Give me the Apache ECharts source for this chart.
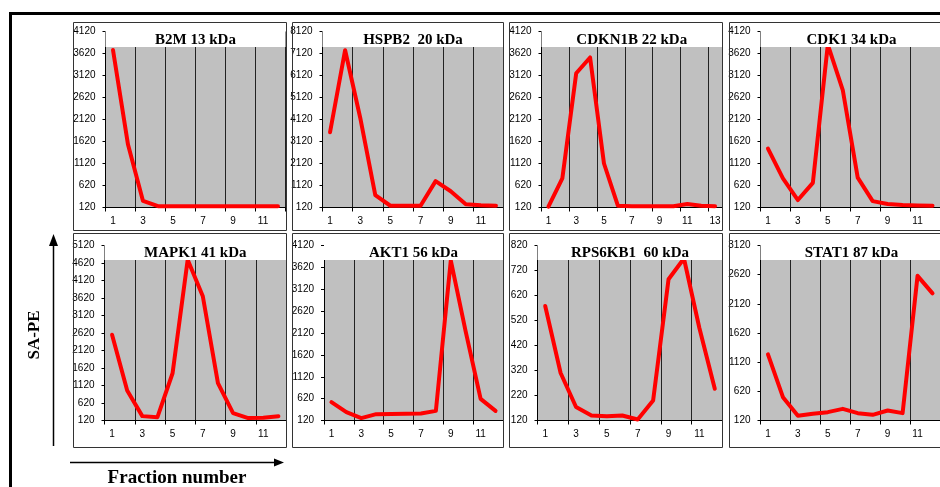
<!DOCTYPE html>
<html><head><meta charset="utf-8">
<script src="https://cdn.jsdelivr.net/npm/echarts@6/dist/echarts.min.js"></script>
<style>html,body{margin:0;padding:0;background:#fff}#c{width:940px;height:487px}</style>
</head><body><div id="c"></div>
<script>
// ---------- data ----------
const fractions12 = ['1','2','3','4','5','6','7','8','9','10','11','12'];
const fractions13 = ['1','2','3','4','5','6','7','8','9','10','11','12','13'];
const panelTitles = ['B2M 13 kDa','HSPB2  20 kDa','CDKN1B 22 kDa','CDK1 34 kDa','MAPK1 41 kDa','AKT1 56 kDa','RPS6KB1  60 kDa','STAT1 87 kDa'];
const b2m     = [3700, 1550, 270, 150, 150, 150, 150, 150, 150, 150, 150, 150];
const hspb2   = [3540, 7270, 4200, 680, 200, 200, 200, 1320, 860, 270, 220, 200];
const cdkn1b  = [140, 780, 3170, 3530, 1120, 160, 150, 150, 150, 150, 200, 160, 150];
const cdk1    = [1460, 780, 290, 680, 3820, 2790, 800, 265, 200, 175, 165, 160];
const mapk1   = [2570, 980, 245, 215, 1470, 4710, 3670, 1190, 330, 190, 200, 240];
const akt1    = [540, 310, 175, 265, 270, 272, 280, 340, 3780, 2150, 615, 340];
const rps6kb1 = [578, 310, 174, 140, 137, 140, 124, 200, 685, 768, 490, 247];
const stat1   = [1255, 520, 200, 235, 263, 320, 246, 217, 292, 246, 2600, 2300];
const axisMin   = [120, 120, 120, 120, 120, 120, 120, 120];
const axisMax   = [4120, 8120, 4120, 4120, 5120, 4120, 820, 3120];
const axisStep  = [500, 1000, 500, 500, 500, 500, 100, 500];
const yAxisTitle = 'SA-PE';
const xAxisTitle = 'Fraction number';

const seriesValues = [b2m, hspb2, cdkn1b, cdk1, mapk1, akt1, rps6kb1, stat1];
const seriesCats = [fractions12, fractions12, fractions13, fractions12, fractions12, fractions12, fractions12, fractions12];

// ---------- layout ----------
const plots = [
  {left:105.5, width:180,   top:31.5,  height:176},
  {left:322.5, width:181,   top:31.5,  height:176},
  {left:541.5, width:180.5, top:31.5,  height:176},
  {left:760.5, width:182,   top:31.5,  height:176},
  {left:104.5, width:181.5, top:245.5, height:175},
  {left:324,   width:179,   top:245.5, height:175},
  {left:537.5, width:185,   top:245.5, height:175},
  {left:760.5, width:182,   top:245.5, height:175}
];
const coverH = [14.5, 14.5, 14.5, 14.5, 13.5, 13.5, 13.5, 13.5];
const colX = [[73.5,286.5],[292.5,503.5],[509.5,722.5],[729.5,960]];
const rowY = [[22.5,230.5],[233.5,447.5]];

const SANS = "'Liberation Sans Narrow','Liberation Sans',Arial,sans-serif";
const SERIF = "'Liberation Serif','Times New Roman',serif";

const grid=[], xAxis=[], yAxis=[], series=[], title=[];
plots.forEach((p,i)=>{
  grid.push({left:p.left, top:p.top, width:p.width, height:p.height, show:true, backgroundColor:'#c0c0c0', borderWidth:0, containLabel:false});
  const n = seriesCats[i].length;
  xAxis.push({type:'category', gridIndex:i, data:seriesCats[i], boundaryGap:true,
    axisLine:{lineStyle:{color:'#000', width:1}},
    axisTick:{show:true, length:4, interval:(k)=>k%2===0, lineStyle:{color:'#000'}},
    axisLabel:{interval:1, margin:9, color:'#000', fontFamily:SANS, fontSize:10},
    splitLine:{show:true, interval:(k)=>k%2===0 && k>0 && k<n, lineStyle:{color:'#222', width:1}}
  });
  yAxis.push({type:'value', gridIndex:i, min:axisMin[i], max:axisMax[i], interval:axisStep[i],
    axisLine:{show:true, lineStyle:{color:'#000', width:1}},
    axisTick:{show:true, length:3, lineStyle:{color:'#000'}},
    axisLabel:{margin:10, color:'#000', fontFamily:SANS, fontSize:10, formatter:(v)=>String(v)},
    splitLine:{show:false}
  });
  series.push({type:'line', xAxisIndex:i, yAxisIndex:i, data:seriesValues[i], symbol:'none',
    lineStyle:{color:'#ff0000', width:4, cap:'round', join:'round'}, z:3, animation:false});
  title.push({text:'{t|'+panelTitles[i]+'}', left:p.left, top:p.top, padding:0, z:10,
    textStyle:{rich:{t:{width:p.width, height:coverH[i], lineHeight:coverH[i], align:'center',
      backgroundColor:'#fff', fontFamily:SERIF, fontWeight:'bold', fontSize:15, color:'#000', padding:[2,0,0,0]}}}});
});

const graphic = [];
colX.forEach(c=>rowY.forEach(r=>{
  graphic.push({type:'rect', z:20, shape:{x:c[0], y:r[0], width:c[1]-c[0], height:r[1]-r[0]},
    style:{fill:null, stroke:'#333', lineWidth:1}});
}));
graphic.push({type:'rect', z:20, shape:{x:10.5, y:13.5, width:1000, height:1000}, style:{fill:null, stroke:'#000', lineWidth:3}});
// vertical arrow
graphic.push({type:'line', z:20, shape:{x1:53.5, y1:446, x2:53.5, y2:244}, style:{stroke:'#000', lineWidth:1.5}});
graphic.push({type:'polygon', z:20, shape:{points:[[53.5,234],[49,246],[58,246]]}, style:{fill:'#000'}});
// horizontal arrow
graphic.push({type:'line', z:20, shape:{x1:70, y1:462.5, x2:276, y2:462.5}, style:{stroke:'#000', lineWidth:1.5}});
graphic.push({type:'polygon', z:20, shape:{points:[[284,462.5],[274,458.5],[274,466.5]]}, style:{fill:'#000'}});
graphic.push({type:'text', z:20, x:35, y:335, rotation:Math.PI/2,
  style:{text:yAxisTitle, font:"bold 17px "+SERIF, fill:'#000', textAlign:'center', textVerticalAlign:'middle'}});
graphic.push({type:'text', z:20, x:177, y:478,
  style:{text:xAxisTitle, font:"bold 19px "+SERIF, fill:'#000', textAlign:'center', textVerticalAlign:'middle'}});

const chart = echarts.init(document.getElementById('c'), null, {renderer:'canvas'});
chart.setOption({animation:false, backgroundColor:'#fff', grid, xAxis, yAxis, series, title, graphic});
</script></body></html>
